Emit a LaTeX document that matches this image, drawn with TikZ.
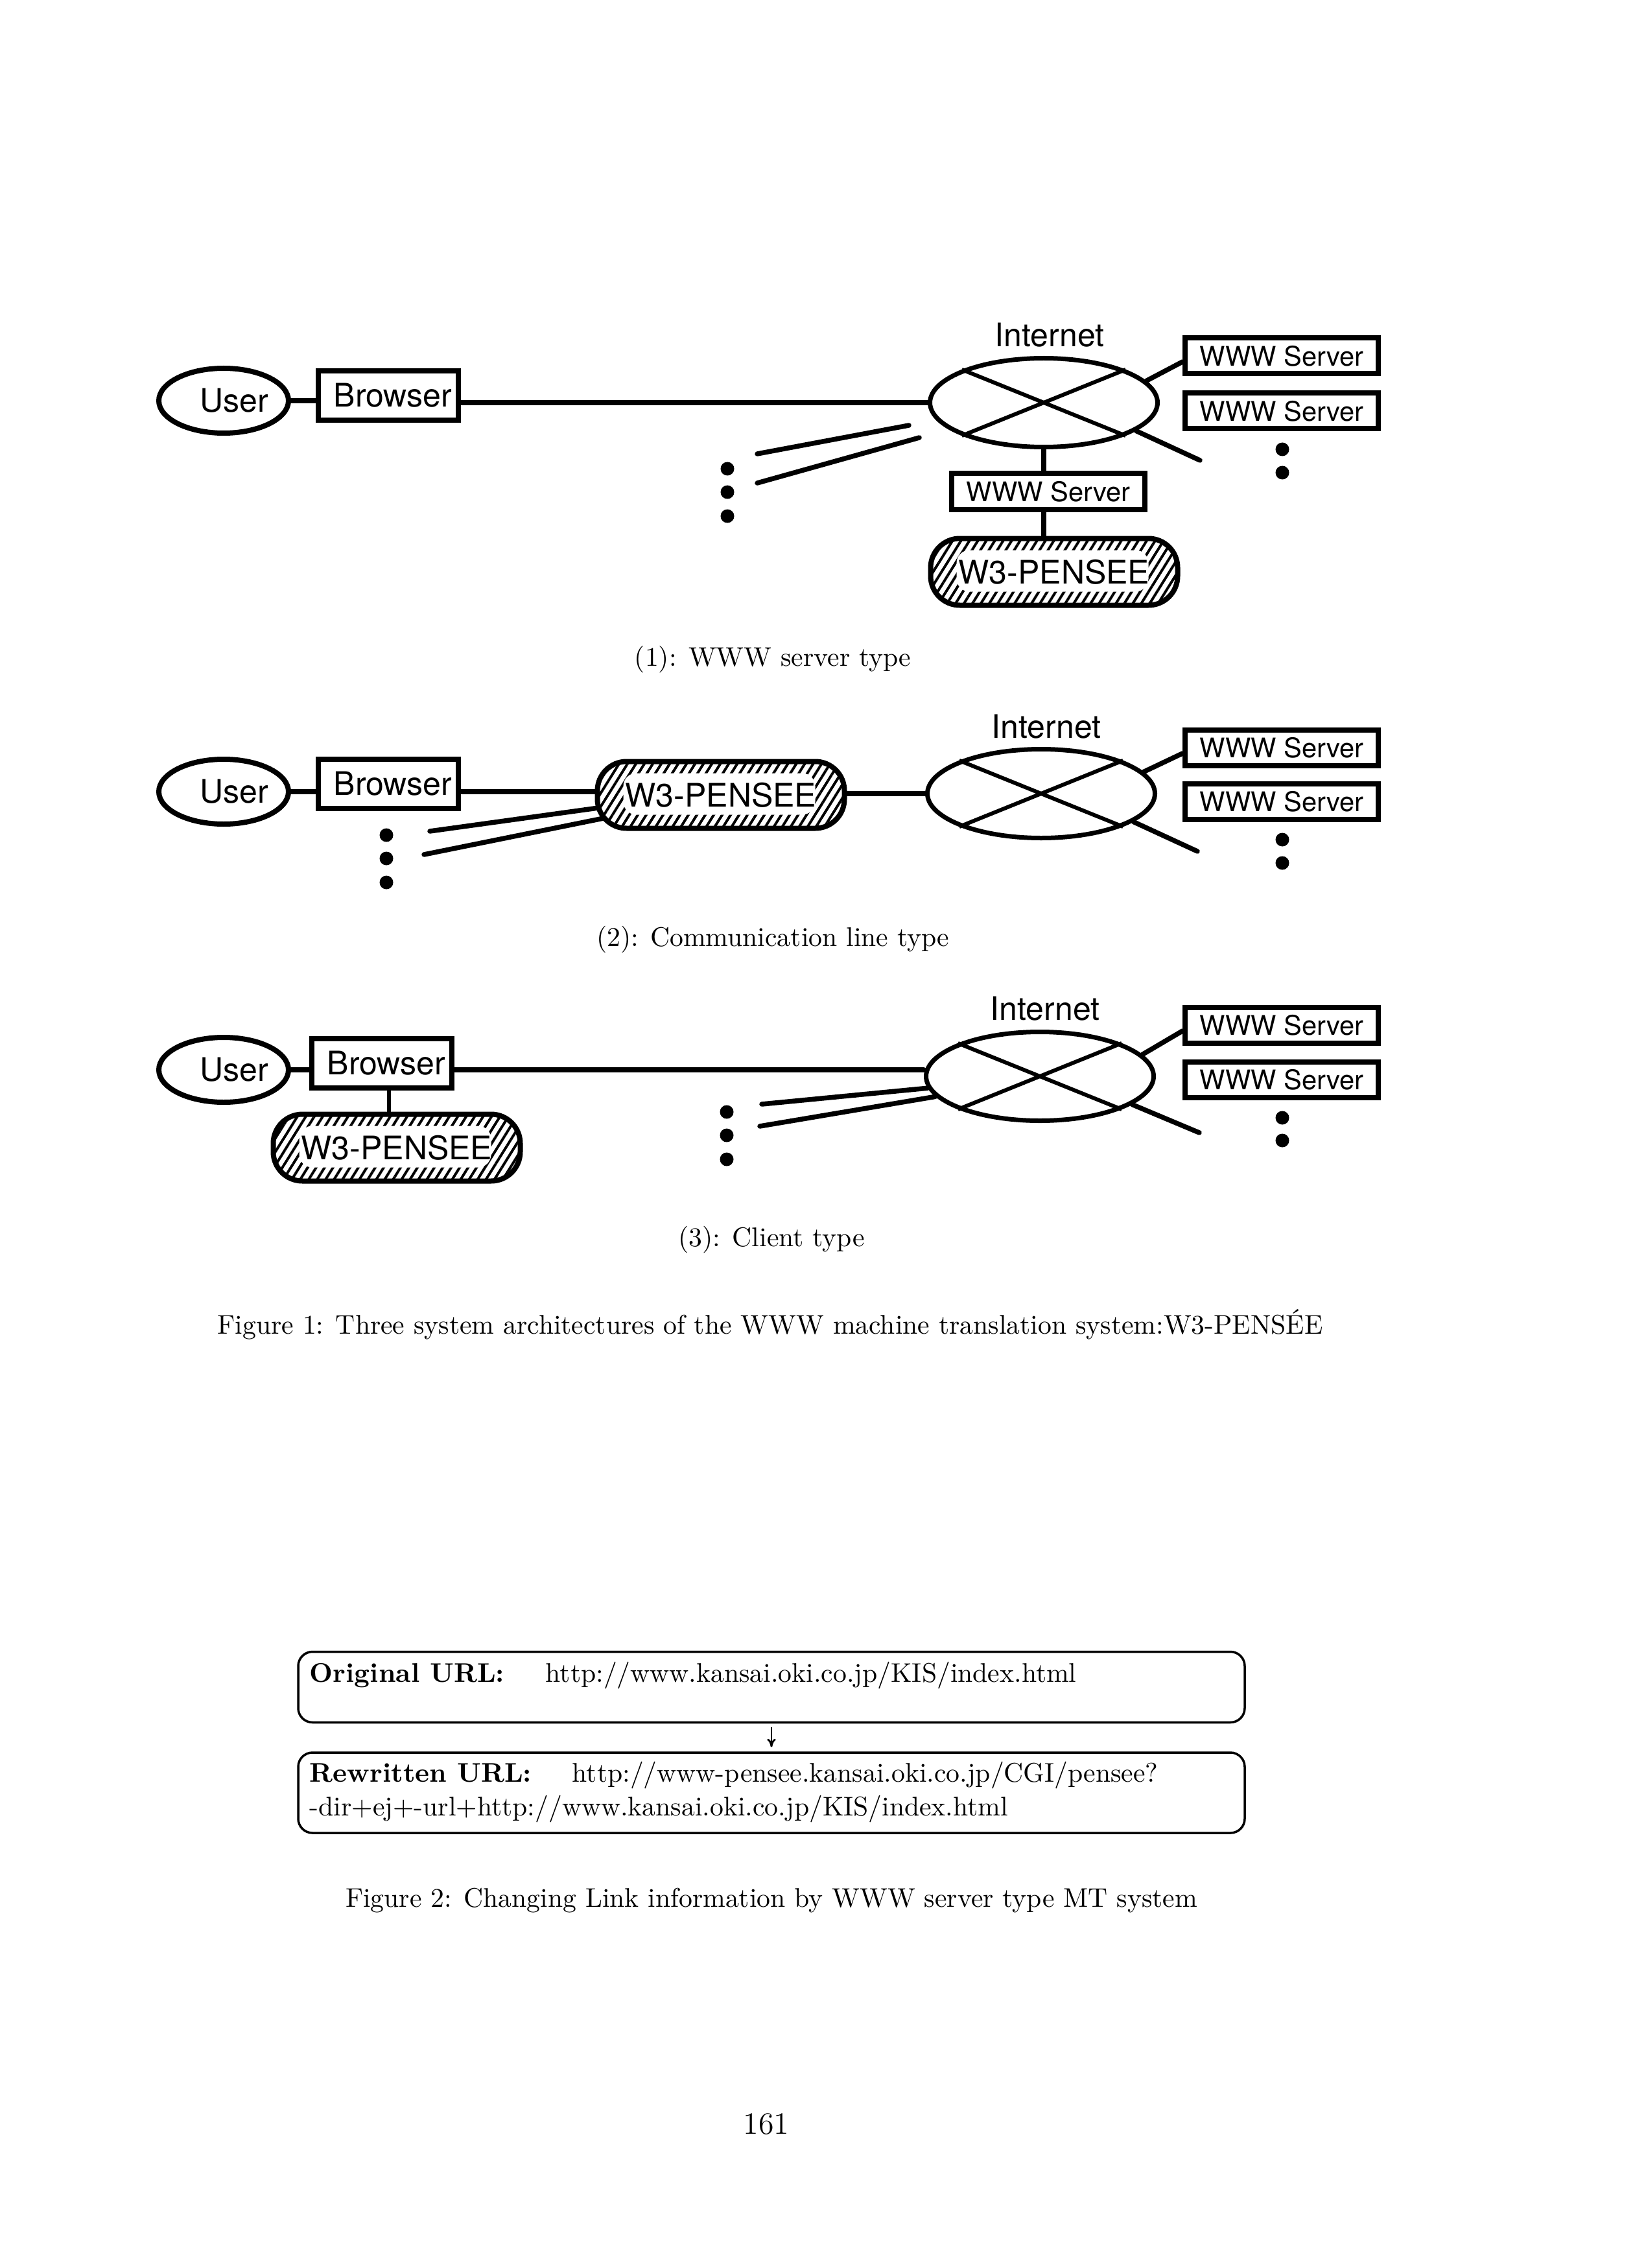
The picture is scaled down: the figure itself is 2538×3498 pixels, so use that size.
\documentclass[tikz,border=0pt]{standalone}
\usepackage{fontspec}
\newfontfamily\hvfont{TeX Gyre Heros}
\usetikzlibrary{shapes.geometric,patterns.meta,calc,arrows.meta}
\newdimen\pxu \pxu=0.24pt
\newcommand\hvbig{\hvfont\fontsize{12}{14}\selectfont}
\newcommand\hvsmall{\hvfont\fontsize{10}{12}\selectfont}
\newcommand\rmten{\fontsize{10}{12}\selectfont}
\tikzset{
  conn/.style={line width=7.5\pxu, line cap=round},
  usr/.style={ellipse, draw, line width=8\pxu, minimum width=200\pxu, minimum height=100\pxu, inner sep=0pt, font=\hvbig},
  brw/.style={rectangle, draw, line width=8\pxu, minimum width=216\pxu, minimum height=76\pxu, inner sep=0pt, font=\hvbig},
  net/.style={ellipse, draw, line width=7\pxu, minimum width=351\pxu, minimum height=137\pxu, inner sep=0pt},
  netlab/.style={font=\hvbig, inner sep=0pt},
  srv/.style={rectangle, draw, line width=8\pxu, minimum width=298\pxu, minimum height=55\pxu, inner sep=0pt, font=\hvsmall},
  pill/.style={rectangle, draw, line width=8\pxu, rounded corners=45\pxu, minimum width=381\pxu, minimum height=103\pxu, inner sep=0pt, font=\hvbig,
    pattern={Lines[angle=58,distance=2.65pt,line width=0.95pt]},
    path picture={\fill[white, rounded corners=20\pxu] ([xshift=40\pxu,yshift=21\pxu]path picture bounding box.south west) rectangle ([xshift=-45\pxu,yshift=-18\pxu]path picture bounding box.north east);}},
  dotn/.style={circle, fill, minimum size=21\pxu, inner sep=0pt},
  cross/.style={line width=6\pxu},
  captxt/.style={font=\rmten, inner sep=0pt},
  urlbox/.style={rectangle, draw, line width=3.5\pxu, rounded corners=22\pxu, minimum width=1460\pxu, inner sep=0pt},
  urltxt/.style={anchor=base west, inner sep=0pt, font=\rmten},
}
\begin{document}
\begin{tikzpicture}[x=0.24pt, y=-0.24pt]
\fill[white] (0,0) rectangle (2538,3498);
\useasboundingbox (0,0) rectangle (2538,3498);

% ---------------- Panel 1 ----------------
\node[usr] (user1) at (345,618) {\hspace*{32\pxu}User};
\node[brw] (browser1) at (599,610) {\hspace*{14\pxu}Browser};
\node[net] (net1) at (1610,621) {};
\node[netlab] (lab1) at (1619,517) {Internet};
\node[srv] (srv1a) at (1977,549) {WWW Server};
\node[srv] (srv1b) at (1977,634) {WWW Server};
\node[srv] (srv1c) at (1617,758) {WWW Server};
\node[pill] (pill1) at (1626,882) {W3-PENSEE};
\node[dotn] (d1a) at (1122,723) {};
\node[dotn] (d1b) at (1122,759) {};
\node[dotn] (d1c) at (1122,796) {};
\node[dotn] (d1d) at (1978,693) {};
\node[dotn] (d1e) at (1978,729) {};
\coordinate (f1a) at (1168,700);
\coordinate (f1b) at (1402,656);
\coordinate (f1c) at (1168,745);
\coordinate (f1d) at (1418,675);
\coordinate (e1) at (1851,710);
\draw[conn] (user1.east) -- (user1.east -| browser1.west);
\draw[conn] (browser1.east |- net1.west) -- (net1.west);
\draw[cross] (net1.158) -- (net1.338);
\draw[cross] (net1.22) -- (net1.202);
\draw[conn] (net1.12) -- ([yshift=-9\pxu]srv1a.west);
\draw[conn] (net1.-17) -- (e1);
\draw[conn] (net1.south) -- (net1.south |- srv1c.north);
\draw[conn] (net1.south |- srv1c.south) -- (net1.south |- pill1.north);
\draw[conn] (f1a) -- (f1b);
\draw[conn] (f1c) -- (f1d);
\node[captxt] (cap1) at (1192,1017) {(1): WWW server type};

% ---------------- Panel 2 ----------------
\node[usr] (user2) at (345,1221) {\hspace*{32\pxu}User};
\node[brw] (browser2) at (599,1209) {\hspace*{14\pxu}Browser};
\node[pill] (pill2) at (1112,1226) {W3-PENSEE};
\node[net] (net2) at (1606,1224) {};
\node[netlab] (lab2) at (1614,1121) {Internet};
\node[srv] (srv2a) at (1977,1153) {WWW Server};
\node[srv] (srv2b) at (1977,1236) {WWW Server};
\node[dotn] (d2a) at (596,1288) {};
\node[dotn] (d2b) at (596,1324) {};
\node[dotn] (d2c) at (596,1361) {};
\node[dotn] (d2d) at (1978,1295) {};
\node[dotn] (d2e) at (1978,1331) {};
\coordinate (f2a) at (663,1282);
\coordinate (f2b) at (654,1318);
\coordinate (e2) at (1847,1313);
\draw[conn] (user2.east) -- (user2.east -| browser2.west);
\draw[conn] (browser2.east |- user2.east) -- (pill2.west |- user2.east);
\draw[conn] (pill2.east |- net2.west) -- (net2.west);
\draw[conn] (f2a) -- ($(pill2.center)+(-189,20)$);
\draw[conn] (f2b) -- ($(pill2.center)+(-181,36)$);
\draw[cross] (net2.158) -- (net2.338);
\draw[cross] (net2.22) -- (net2.202);
\draw[conn] (net2.12) -- ([yshift=-9\pxu]srv2a.west);
\draw[conn] (net2.-17) -- (e2);
\node[captxt] (cap2) at (1192,1449) {(2): Communication line type};

% ---------------- Panel 3 ----------------
\node[usr] (user3) at (345,1650) {\hspace*{32\pxu}User};
\node[brw] (browser3) at (589,1640) {\hspace*{14\pxu}Browser};
\node[pill] (pill3) at (612,1770) {W3-PENSEE};
\node[net] (net3) at (1604,1660) {};
\node[netlab] (lab3) at (1612,1556) {Internet};
\node[srv] (srv3a) at (1977,1581) {WWW Server};
\node[srv] (srv3b) at (1977,1665) {WWW Server};
\node[dotn] (d3a) at (1121,1715) {};
\node[dotn] (d3b) at (1121,1751) {};
\node[dotn] (d3c) at (1121,1788) {};
\node[dotn] (d3d) at (1978,1724) {};
\node[dotn] (d3e) at (1978,1759) {};
\coordinate (f3a) at (1175,1703);
\coordinate (f3b) at (1172,1737);
\coordinate (e3) at (1850,1747);
\draw[conn] (user3.east) -- (user3.east -| browser3.west);
\draw[conn] (browser3.east |- user3.east) -- (net3.west |- user3.east);
\draw[line width=6\pxu] ([xshift=11\pxu]browser3.south) -- ([xshift=11\pxu]browser3.south |- pill3.north);
\draw[conn] (f3a) -- (net3.186);
\draw[conn] (f3b) -- (net3.191);
\draw[cross] (net3.158) -- (net3.338);
\draw[cross] (net3.22) -- (net3.202);
\draw[conn] (net3.12) -- ([yshift=-9\pxu]srv3a.west);
\draw[conn] (net3.-17) -- (e3);
\node[captxt] (cap3) at (1190,1912) {(3): Client type};

\node[captxt] (fig1) at (1188,2043) {Figure 1: Three system architectures of the WWW machine translation system:W3-PENSÉE};

% ---------------- Figure 2 ----------------
\node[urlbox, minimum height=109\pxu] (url1) at (1190,2602) {};
\node[urlbox, minimum height=124\pxu] (url2) at (1190,2765) {};
\node[urltxt] (o1) at (477,2594) {\bfseries Original URL:};
\node[urltxt] (o2) at (841,2594) {http://www.kansai.oki.co.jp/KIS/index.html};
\node[urltxt] (r1) at (477,2748) {\bfseries Rewritten URL:};
\node[urltxt] (r2) at (882,2748) {http://www-pensee.kansai.oki.co.jp/CGI/pensee?};
\node[urltxt] (r3) at (477,2800) {-dir+ej+-url+http://www.kansai.oki.co.jp/KIS/index.html};
\draw[line width=0.7pt, -{To[length=3.1pt,width=3.2pt]}, shorten <=1.4pt, shorten >=1.6pt] (url1.south) -- (url2.north);
\node[captxt] (fig2) at (1190,2931) {Figure 2: Changing Link information by WWW server type MT system};
\node[font=\fontsize{11.5}{13}\selectfont, inner sep=0pt] (pg) at (1182,3276) {161};
\end{tikzpicture}
\end{document}
